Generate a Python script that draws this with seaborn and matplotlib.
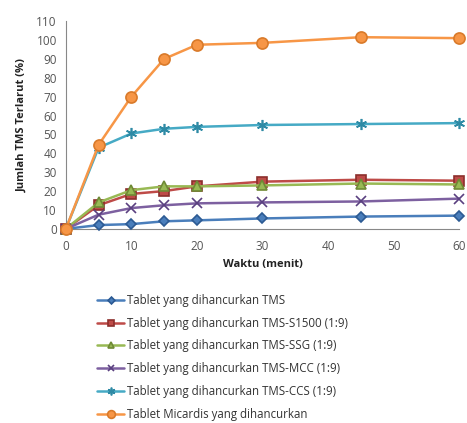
import numpy as np
import pandas as pd
import matplotlib
matplotlib.use("Agg")
import matplotlib.pyplot as plt
import seaborn as sns

waktu = [0, 5, 10, 15, 20, 30, 45, 60]
series_names = [
    "Tablet yang dihancurkan TMS",
    "Tablet yang dihancurkan TMS-S1500 (1:9)",
    "Tablet yang dihancurkan TMS-SSG (1:9)",
    "Tablet yang dihancurkan TMS-MCC (1:9)",
    "Tablet yang dihancurkan TMS-CCS (1:9)",
    "Tablet Micardis yang dihancurkan",
]
tms = [0, 2, 2.5, 4, 4.5, 5.5, 6.5, 7]
tms_s1500 = [0, 12.5, 18.5, 20, 22.5, 25, 26, 25.5]
tms_ssg = [0, 14, 20.5, 22.5, 22.5, 23, 24, 23.5]
tms_mcc = [0, 7.5, 11, 12.5, 13.5, 14, 14.5, 16]
tms_ccs = [0, 43, 50.5, 53, 54, 55, 55.5, 56]
micardis = [0, 44.5, 70, 90, 97.5, 98.5, 101.5, 101]

colors = ["#4A7EBB", "#BE4B48", "#98B954", "#7D60A0", "#46AAC5", "#F79646"]
edge_colors = ["#2C5A93", "#8C2F2C", "#6F8A35", "#5A4080", "#2E8AA5", "#D97A2A"]
markers = ["D", "s", "^", "x", (6, 2, 0), "o"]
sizes = [5, 7, 7, 7, 8, 8]

rows = []
for name, vals in zip(series_names, [tms, tms_s1500, tms_ssg, tms_mcc, tms_ccs, micardis]):
    for t, v in zip(waktu, vals):
        rows.append({"Waktu": t, "Terlarut": v, "Seri": name})
df = pd.DataFrame(rows)

sns.set_style("white")
plt.rcParams["font.family"] = ["Open Sans", "DejaVu Sans"]

fig = plt.figure(figsize=(4.67, 4.23), dpi=100)
ax = fig.add_axes([0.141, 0.459, 0.842, 0.491])

for i, name in enumerate(series_names):
    sub = df[df["Seri"] == name]
    sns.lineplot(data=sub, x="Waktu", y="Terlarut", ax=ax, color=colors[i],
                 marker=markers[i], markersize=sizes[i], markerfacecolor=colors[i],
                 markeredgecolor=edge_colors[i], markeredgewidth=1.2,
                 linewidth=1.8, label=name, clip_on=False, zorder=3 + i)

ax.set_xlim(0, 60)
ax.set_ylim(0, 110)
ax.set_xticks(range(0, 61, 10))
ax.set_yticks(range(0, 111, 10))
ax.tick_params(axis="both", labelsize=8.5, colors="#555555", length=3, direction="out")
ax.tick_params(axis="x", pad=5)
for side in ["top", "right"]:
    ax.spines[side].set_visible(False)
for side in ["left", "bottom"]:
    ax.spines[side].set_color("#888888")
    ax.spines[side].set_linewidth(0.8)
ax.set_xlabel("Waktu (menit)", fontsize=8, fontweight="bold", color="#222222", labelpad=4)
ax.set_ylabel("Jumlah TMS Terlarut (%)", fontsize=8, fontweight="bold", color="#222222", labelpad=6)

handles, labels = ax.get_legend_handles_labels()
ax.get_legend().remove()
fig.legend(handles, labels, loc="upper left", bbox_to_anchor=(0.185, 0.33),
           frameon=False, fontsize=8.3, handlelength=2.4, handletextpad=0.2,
           labelspacing=0.85, markerscale=0.7, labelcolor="#333333")

fig.savefig("out.png", dpi=100)
